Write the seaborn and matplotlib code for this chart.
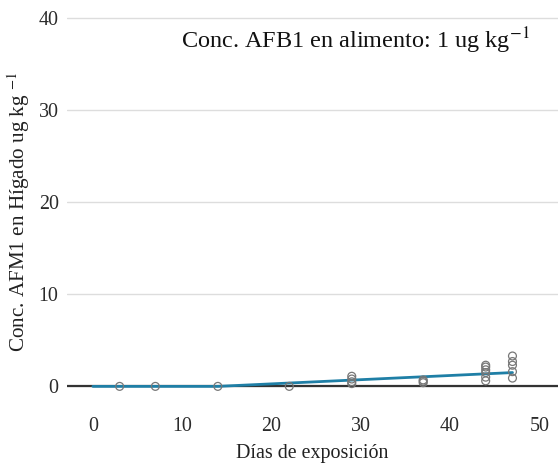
import numpy as np
import pandas as pd
import matplotlib
matplotlib.use("Agg")
import matplotlib.pyplot as plt
import seaborn as sns

# Observed liver AFM1 concentrations by exposure day
dias = [3, 7, 14, 22,
        29, 29, 29, 29,
        37, 37, 37,
        44, 44, 44, 44, 44, 44,
        47, 47, 47, 47, 47]
conc_afm1 = [0.0, 0.0, 0.0, 0.0,
             1.1, 0.8, 0.5, 0.3,
             0.7, 0.55, 0.4,
             2.3, 2.1, 1.8, 1.5, 1.0, 0.6,
             3.3, 2.7, 2.3, 1.6, 0.9]

# Fitted accumulation curve
ajuste_dias = [0, 14, 47]
ajuste_conc = [0.0, 0.0, 1.5]

y_ticks = [0, 10, 20, 30, 40]
x_ticks = [0, 10, 20, 30, 40, 50]

obs = pd.DataFrame({"dias": dias, "conc": conc_afm1})
fit = pd.DataFrame({"dias": ajuste_dias, "conc": ajuste_conc})

sns.set_theme(style="whitegrid")
plt.rcParams["font.family"] = ["Liberation Serif", "DejaVu Serif"]
plt.rcParams["mathtext.fontset"] = "stix"

fig = plt.figure(figsize=(5.58, 4.72), dpi=100)
ax = fig.add_axes([0.12, 0.158, 0.88, 0.823])

ax.axhline(0, color="#333333", lw=1.6, zorder=1)
sns.lineplot(data=fit, x="dias", y="conc", ax=ax, color="#1f7fa6", lw=2.0, zorder=3)
sns.scatterplot(data=obs, x="dias", y="conc", ax=ax, s=32, marker="o",
                facecolor="none", edgecolor="#777777", linewidth=0.9, zorder=4)

ax.set_xlim(-2.9, 52.1)
ax.set_ylim(-1.2, 41)
ax.set_xticks(x_ticks)
ax.set_yticks(y_ticks)
ax.grid(axis="x", visible=False)
ax.grid(axis="y", color="#dddddd", lw=1.0)
for s in ax.spines.values():
    s.set_visible(False)
ax.tick_params(axis="both", length=0, labelsize=14.4, labelcolor="#2b2b2b")
ax.tick_params(axis="x", pad=14)
ax.tick_params(axis="y", pad=6)

ax.set_xlabel("Días de exposición", fontsize=14.4, color="#222222", labelpad=6)
ax.set_ylabel("Conc. AFM1 en Hígado ug kg $^{-1}$", fontsize=15.2, color="#222222")
ax.yaxis.set_label_coords(-0.072, 0.478)

ax.text(29.4, 37.6, "Conc. AFB1 en alimento: 1 ug kg$^{-1}$", fontsize=17.5,
        ha="center", va="center", color="#111111")

fig.savefig("out.png", dpi=100)
